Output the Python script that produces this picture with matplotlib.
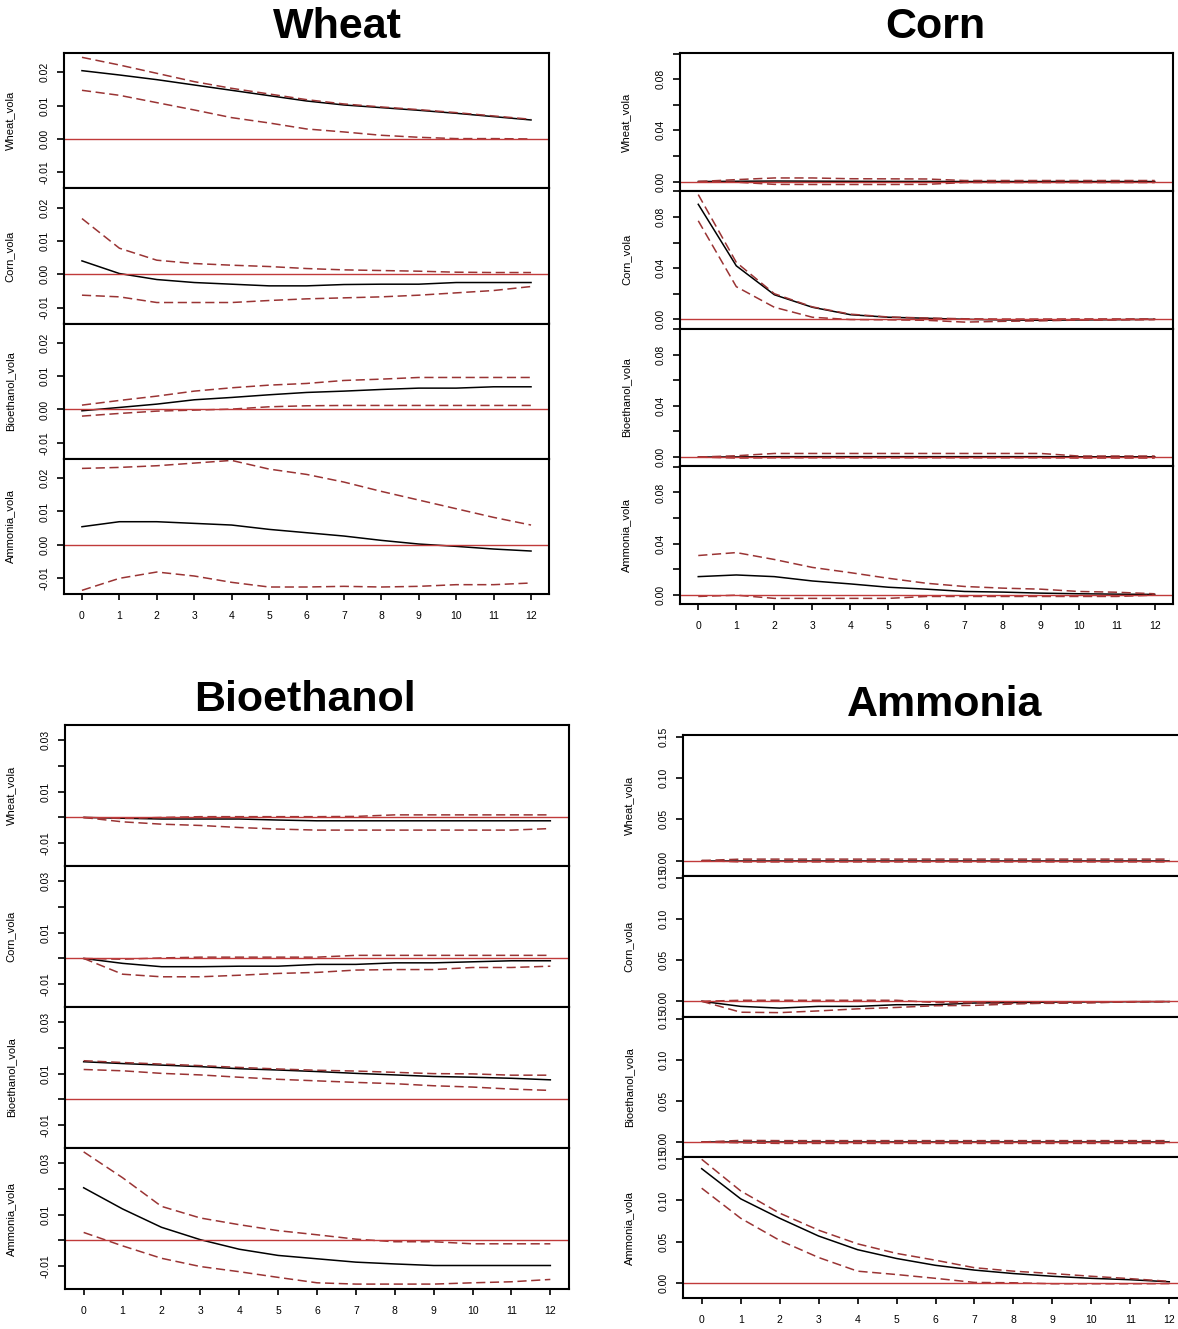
import matplotlib
matplotlib.use('Agg')
import matplotlib.pyplot as plt

# impulse response horizons
horizon = list(range(13))
row_names = ['Wheat_vola', 'Corn_vola', 'Bioethanol_vola', 'Ammonia_vola']
panel_titles = ['Wheat', 'Corn', 'Bioethanol', 'Ammonia']

# ---- shock to Wheat ----
wh_wheat = [0.0205, 0.0192, 0.0178, 0.0162, 0.0146, 0.0130, 0.0114, 0.0102, 0.0094, 0.0086, 0.0077, 0.0067, 0.0057]
wh_wheat_up = [0.0245, 0.0222, 0.0197, 0.0172, 0.0152, 0.0135, 0.0118, 0.0105, 0.0096, 0.0088, 0.0079, 0.0069, 0.0059]
wh_wheat_lo = [0.0146, 0.0131, 0.0109, 0.0087, 0.0064, 0.0048, 0.0030, 0.0021, 0.0011, 0.0005, 0.0001, 0.0001, 0.0000]
wh_corn = [0.0040, 0.0002, -0.0016, -0.0025, -0.0030, -0.0035, -0.0035, -0.0031, -0.0030, -0.0030, -0.0025, -0.0025, -0.0025]
wh_corn_up = [0.0167, 0.0078, 0.0042, 0.0032, 0.0027, 0.0023, 0.0017, 0.0013, 0.0011, 0.0009, 0.0006, 0.0005, 0.0005]
wh_corn_lo = [-0.0063, -0.0068, -0.0085, -0.0085, -0.0085, -0.0079, -0.0074, -0.0071, -0.0068, -0.0063, -0.0056, -0.0049, -0.0037]
wh_bioeth = [-0.0004, 0.0006, 0.0016, 0.0029, 0.0036, 0.0044, 0.0051, 0.0055, 0.0060, 0.0064, 0.0064, 0.0068, 0.0068]
wh_bioeth_up = [0.0013, 0.0027, 0.0040, 0.0055, 0.0065, 0.0073, 0.0078, 0.0087, 0.0091, 0.0096, 0.0096, 0.0096, 0.0096]
wh_bioeth_lo = [-0.0020, -0.0012, -0.0005, -0.0002, 0.0001, 0.0008, 0.0011, 0.0012, 0.0012, 0.0012, 0.0012, 0.0012, 0.0012]
wh_ammonia = [0.0054, 0.0069, 0.0069, 0.0064, 0.0059, 0.0046, 0.0036, 0.0026, 0.0013, 0.0002, -0.0005, -0.0013, -0.0019]
wh_ammonia_up = [0.0229, 0.0232, 0.0237, 0.0245, 0.0253, 0.0227, 0.0211, 0.0188, 0.0160, 0.0134, 0.0108, 0.0082, 0.0059]
wh_ammonia_lo = [-0.0137, -0.0101, -0.0082, -0.0094, -0.0113, -0.0127, -0.0127, -0.0125, -0.0127, -0.0125, -0.0120, -0.0120, -0.0115]

# ---- shock to Corn ----
co_wheat = [0.0000, 0.0002, 0.0004, 0.0003, 0.0002, 0.0001, 0.0001, 0.0000, 0.0000, 0.0000, 0.0000, 0.0000, 0.0000]
co_wheat_up = [0.0000, 0.0015, 0.0028, 0.0028, 0.0022, 0.0021, 0.0020, 0.0008, 0.0008, 0.0008, 0.0008, 0.0008, 0.0008]
co_wheat_lo = [0.0000, -0.0005, -0.0022, -0.0023, -0.0023, -0.0023, -0.0022, -0.0008, -0.0008, -0.0008, -0.0008, -0.0008, -0.0008]
co_corn = [0.0899, 0.0418, 0.0192, 0.0094, 0.0036, 0.0016, 0.0008, 0.0000, -0.0005, -0.0008, -0.0005, -0.0003, 0.0000]
co_corn_up = [0.0975, 0.0445, 0.0200, 0.0097, 0.0040, 0.0018, 0.0010, 0.0004, 0.0002, 0.0002, 0.0003, 0.0003, 0.0003]
co_corn_lo = [0.0770, 0.0255, 0.0094, 0.0016, -0.0002, -0.0004, -0.0008, -0.0022, -0.0016, -0.0012, -0.0006, -0.0005, -0.0003]
co_bioeth = [0.0000, 0.0001, 0.0003, 0.0003, 0.0003, 0.0003, 0.0003, 0.0003, 0.0003, 0.0003, 0.0002, 0.0002, 0.0002]
co_bioeth_up = [0.0000, 0.0010, 0.0028, 0.0028, 0.0028, 0.0028, 0.0028, 0.0028, 0.0028, 0.0028, 0.0008, 0.0008, 0.0008]
co_bioeth_lo = [0.0000, -0.0008, -0.0006, -0.0006, -0.0006, -0.0006, -0.0006, -0.0006, -0.0006, -0.0006, -0.0008, -0.0008, -0.0008]
co_ammonia = [0.0142, 0.0155, 0.0142, 0.0108, 0.0085, 0.0059, 0.0044, 0.0026, 0.0021, 0.0013, 0.0008, 0.0005, 0.0003]
co_ammonia_up = [0.0307, 0.0330, 0.0276, 0.0214, 0.0173, 0.0129, 0.0090, 0.0065, 0.0052, 0.0044, 0.0026, 0.0020, 0.0008]
co_ammonia_lo = [-0.0013, -0.0003, -0.0028, -0.0028, -0.0028, -0.0028, -0.0013, -0.0013, -0.0013, -0.0013, -0.0013, -0.0013, -0.0003]

# ---- shock to Bioethanol ----
bi_wheat = [0.0000, -0.0003, -0.0006, -0.0006, -0.0006, -0.0010, -0.0013, -0.0013, -0.0013, -0.0013, -0.0013, -0.0013, -0.0013]
bi_wheat_up = [0.0000, -0.0004, 0.0000, 0.0003, 0.0003, 0.0003, 0.0003, 0.0004, 0.0010, 0.0010, 0.0010, 0.0010, 0.0010]
bi_wheat_lo = [0.0000, -0.0017, -0.0026, -0.0031, -0.0039, -0.0045, -0.0049, -0.0049, -0.0049, -0.0049, -0.0049, -0.0049, -0.0043]
bi_corn = [0.0000, -0.0019, -0.0032, -0.0032, -0.0030, -0.0030, -0.0023, -0.0023, -0.0017, -0.0017, -0.0013, -0.0009, -0.0009]
bi_corn_up = [0.0000, -0.0003, 0.0002, 0.0005, 0.0005, 0.0005, 0.0005, 0.0012, 0.0012, 0.0012, 0.0012, 0.0012, 0.0012]
bi_corn_lo = [0.0000, -0.0061, -0.0071, -0.0071, -0.0065, -0.0058, -0.0054, -0.0045, -0.0043, -0.0043, -0.0035, -0.0035, -0.0030]
bi_bioeth = [0.0146, 0.0139, 0.0133, 0.0127, 0.0119, 0.0114, 0.0108, 0.0101, 0.0095, 0.0089, 0.0086, 0.0082, 0.0076]
bi_bioeth_up = [0.0150, 0.0143, 0.0137, 0.0131, 0.0124, 0.0118, 0.0113, 0.0110, 0.0105, 0.0100, 0.0099, 0.0094, 0.0094]
bi_bioeth_lo = [0.0116, 0.0111, 0.0101, 0.0095, 0.0086, 0.0078, 0.0072, 0.0066, 0.0061, 0.0053, 0.0048, 0.0040, 0.0035]
bi_ammonia = [0.0204, 0.0122, 0.0051, 0.0003, -0.0034, -0.0058, -0.0071, -0.0084, -0.0091, -0.0097, -0.0097, -0.0097, -0.0097]
bi_ammonia_up = [0.0343, 0.0243, 0.0132, 0.0087, 0.0061, 0.0038, 0.0022, 0.0005, -0.0005, -0.0005, -0.0013, -0.0013, -0.0013]
bi_ammonia_lo = [0.0031, -0.0021, -0.0069, -0.0101, -0.0121, -0.0143, -0.0164, -0.0169, -0.0169, -0.0169, -0.0164, -0.0160, -0.0151]

# ---- shock to Ammonia ----
am_wheat = [0.0000, 0.0000, 0.0000, 0.0000, 0.0000, 0.0000, 0.0000, 0.0000, 0.0000, 0.0000, 0.0000, 0.0000, 0.0000]
am_wheat_up = [0.0000, 0.0017, 0.0017, 0.0017, 0.0017, 0.0017, 0.0017, 0.0017, 0.0017, 0.0017, 0.0017, 0.0017, 0.0017]
am_wheat_lo = [0.0000, -0.0017, -0.0017, -0.0017, -0.0017, -0.0017, -0.0017, -0.0017, -0.0017, -0.0017, -0.0017, -0.0017, -0.0017]
am_corn = [0.0000, -0.0062, -0.0083, -0.0062, -0.0062, -0.0042, -0.0042, -0.0021, -0.0015, -0.0010, -0.0008, -0.0005, -0.0004]
am_corn_up = [0.0000, 0.0012, 0.0012, 0.0012, 0.0012, 0.0012, -0.0015, -0.0020, -0.0025, -0.0025, -0.0020, -0.0005, -0.0003]
am_corn_lo = [0.0000, -0.0133, -0.0138, -0.0117, -0.0092, -0.0075, -0.0054, -0.0050, -0.0033, -0.0020, -0.0010, -0.0010, -0.0005]
am_bioeth = [0.0000, 0.0000, 0.0000, 0.0000, 0.0000, 0.0000, 0.0000, 0.0000, 0.0000, 0.0000, 0.0000, 0.0000, 0.0000]
am_bioeth_up = [0.0000, 0.0020, 0.0017, 0.0017, 0.0017, 0.0017, 0.0017, 0.0017, 0.0017, 0.0017, 0.0017, 0.0017, 0.0017]
am_bioeth_lo = [0.0000, -0.0010, -0.0017, -0.0017, -0.0017, -0.0017, -0.0017, -0.0017, -0.0017, -0.0017, -0.0017, -0.0017, -0.0017]
am_ammonia = [0.1386, 0.1020, 0.0784, 0.0568, 0.0402, 0.0295, 0.0212, 0.0154, 0.0112, 0.0079, 0.0054, 0.0037, 0.0012]
am_ammonia_up = [0.1500, 0.1116, 0.0846, 0.0639, 0.0473, 0.0357, 0.0274, 0.0183, 0.0141, 0.0112, 0.0079, 0.0050, 0.0017]
am_ammonia_lo = [0.1149, 0.0784, 0.0515, 0.0307, 0.0141, 0.0100, 0.0054, 0.0004, 0.0000, -0.0012, -0.0012, -0.0012, -0.0010]

# y axis ticks (R drops labels that would overlap)
wh_yticks = [-0.01, 0.0, 0.01, 0.02]
wh_ylabels = ['-0.01', '0.00', '0.01', '0.02']
co_yticks = [0.0, 0.02, 0.04, 0.06, 0.08, 0.10]
co_ylabels = ['0.00', '', '0.04', '', '0.08', '']
bi_yticks = [-0.01, 0.0, 0.01, 0.02, 0.03]
bi_ylabels = ['-0.01', '', '0.01', '', '0.03']
am_yticks = [0.0, 0.05, 0.10, 0.15]
am_ylabels = ['0.00', '0.05', '0.10', '0.15']

W, H = 1178, 1329
FONT = 'Liberation Sans'
ZERO_COL = '#c03a3a'
CI_COL = '#9a3434'
TICK_FS = 7.5
LABEL_FS = 8


def draw_panel(fig, box, title, title_xy, rows, ylim, yticks, ylabels):
    """box = (left, top, right, bottom) in pixels, rows = list of (irf, upper, lower)"""
    left, top, right, bottom = box
    width_px = right - left
    row_h = (bottom - top) / 4.0

    fig.text(title_xy[0] / W, 1 - title_xy[1] / H, title, ha='center', va='center',
             fontsize=31, fontweight='bold', family=FONT)

    for i, (irf, up, lo) in enumerate(rows):
        t = top + i * row_h
        ax = fig.add_axes([left / W, 1 - (t + row_h) / H, width_px / W, row_h / H])

        # irf first, then bands, zero line on top (like plot.varirf)
        ax.plot(horizon, irf, color='black', lw=1.1)
        ax.plot(horizon, up, color=CI_COL, lw=1.1, ls=(0, (6, 3)))
        ax.plot(horizon, lo, color=CI_COL, lw=1.1, ls=(0, (6, 3)))
        ax.axhline(0, color=ZERO_COL, lw=1.0)

        ax.set_xlim(-0.48, 12.48)
        ax.set_ylim(*ylim)
        ax.set_yticks(yticks)
        ax.set_yticklabels(ylabels, rotation=90, va='center', fontsize=TICK_FS, family=FONT)
        ax.tick_params(axis='y', direction='out', length=5, width=1.2, pad=5.5)

        ax.set_ylabel(row_names[i], fontsize=LABEL_FS, family=FONT)
        ax.yaxis.set_label_coords(-49.0 / width_px, 0.5)

        for sp in ax.spines.values():
            sp.set_linewidth(1.5)

        if i < 3:
            ax.tick_params(axis='x', bottom=False, labelbottom=False)
        else:
            ax.set_xticks(horizon)
            ax.set_xticklabels([str(h) for h in horizon], fontsize=TICK_FS, family=FONT)
            ax.tick_params(axis='x', direction='out', length=4.5, width=1.2, pad=7.5)


def main():
    fig = plt.figure(figsize=(W / 100, H / 100), dpi=100)

    draw_panel(fig, (64, 53, 549, 594), panel_titles[0], (337, 27),
               [(wh_wheat, wh_wheat_up, wh_wheat_lo),
                (wh_corn, wh_corn_up, wh_corn_lo),
                (wh_bioeth, wh_bioeth_up, wh_bioeth_lo),
                (wh_ammonia, wh_ammonia_up, wh_ammonia_lo)],
               (-0.0148, 0.0258), wh_yticks, wh_ylabels)

    draw_panel(fig, (680, 53, 1173, 604), panel_titles[1], (935, 27),
               [(co_wheat, co_wheat_up, co_wheat_lo),
                (co_corn, co_corn_up, co_corn_lo),
                (co_bioeth, co_bioeth_up, co_bioeth_lo),
                (co_ammonia, co_ammonia_up, co_ammonia_lo)],
               (-0.0072, 0.1005), co_yticks, co_ylabels)

    draw_panel(fig, (65, 725, 569, 1289), panel_titles[2], (305, 700),
               [(bi_wheat, bi_wheat_up, bi_wheat_lo),
                (bi_corn, bi_corn_up, bi_corn_lo),
                (bi_bioeth, bi_bioeth_up, bi_bioeth_lo),
                (bi_ammonia, bi_ammonia_up, bi_ammonia_lo)],
               (-0.0188, 0.0358), bi_yticks, bi_ylabels)

    draw_panel(fig, (683, 735, 1188, 1298), panel_titles[3], (945, 705),
               [(am_wheat, am_wheat_up, am_wheat_lo),
                (am_corn, am_corn_up, am_corn_lo),
                (am_bioeth, am_bioeth_up, am_bioeth_lo),
                (am_ammonia, am_ammonia_up, am_ammonia_lo)],
               (-0.0185, 0.1525), am_yticks, am_ylabels)

    fig.savefig('out.png', dpi=100)


if __name__ == "__main__":
    main()
